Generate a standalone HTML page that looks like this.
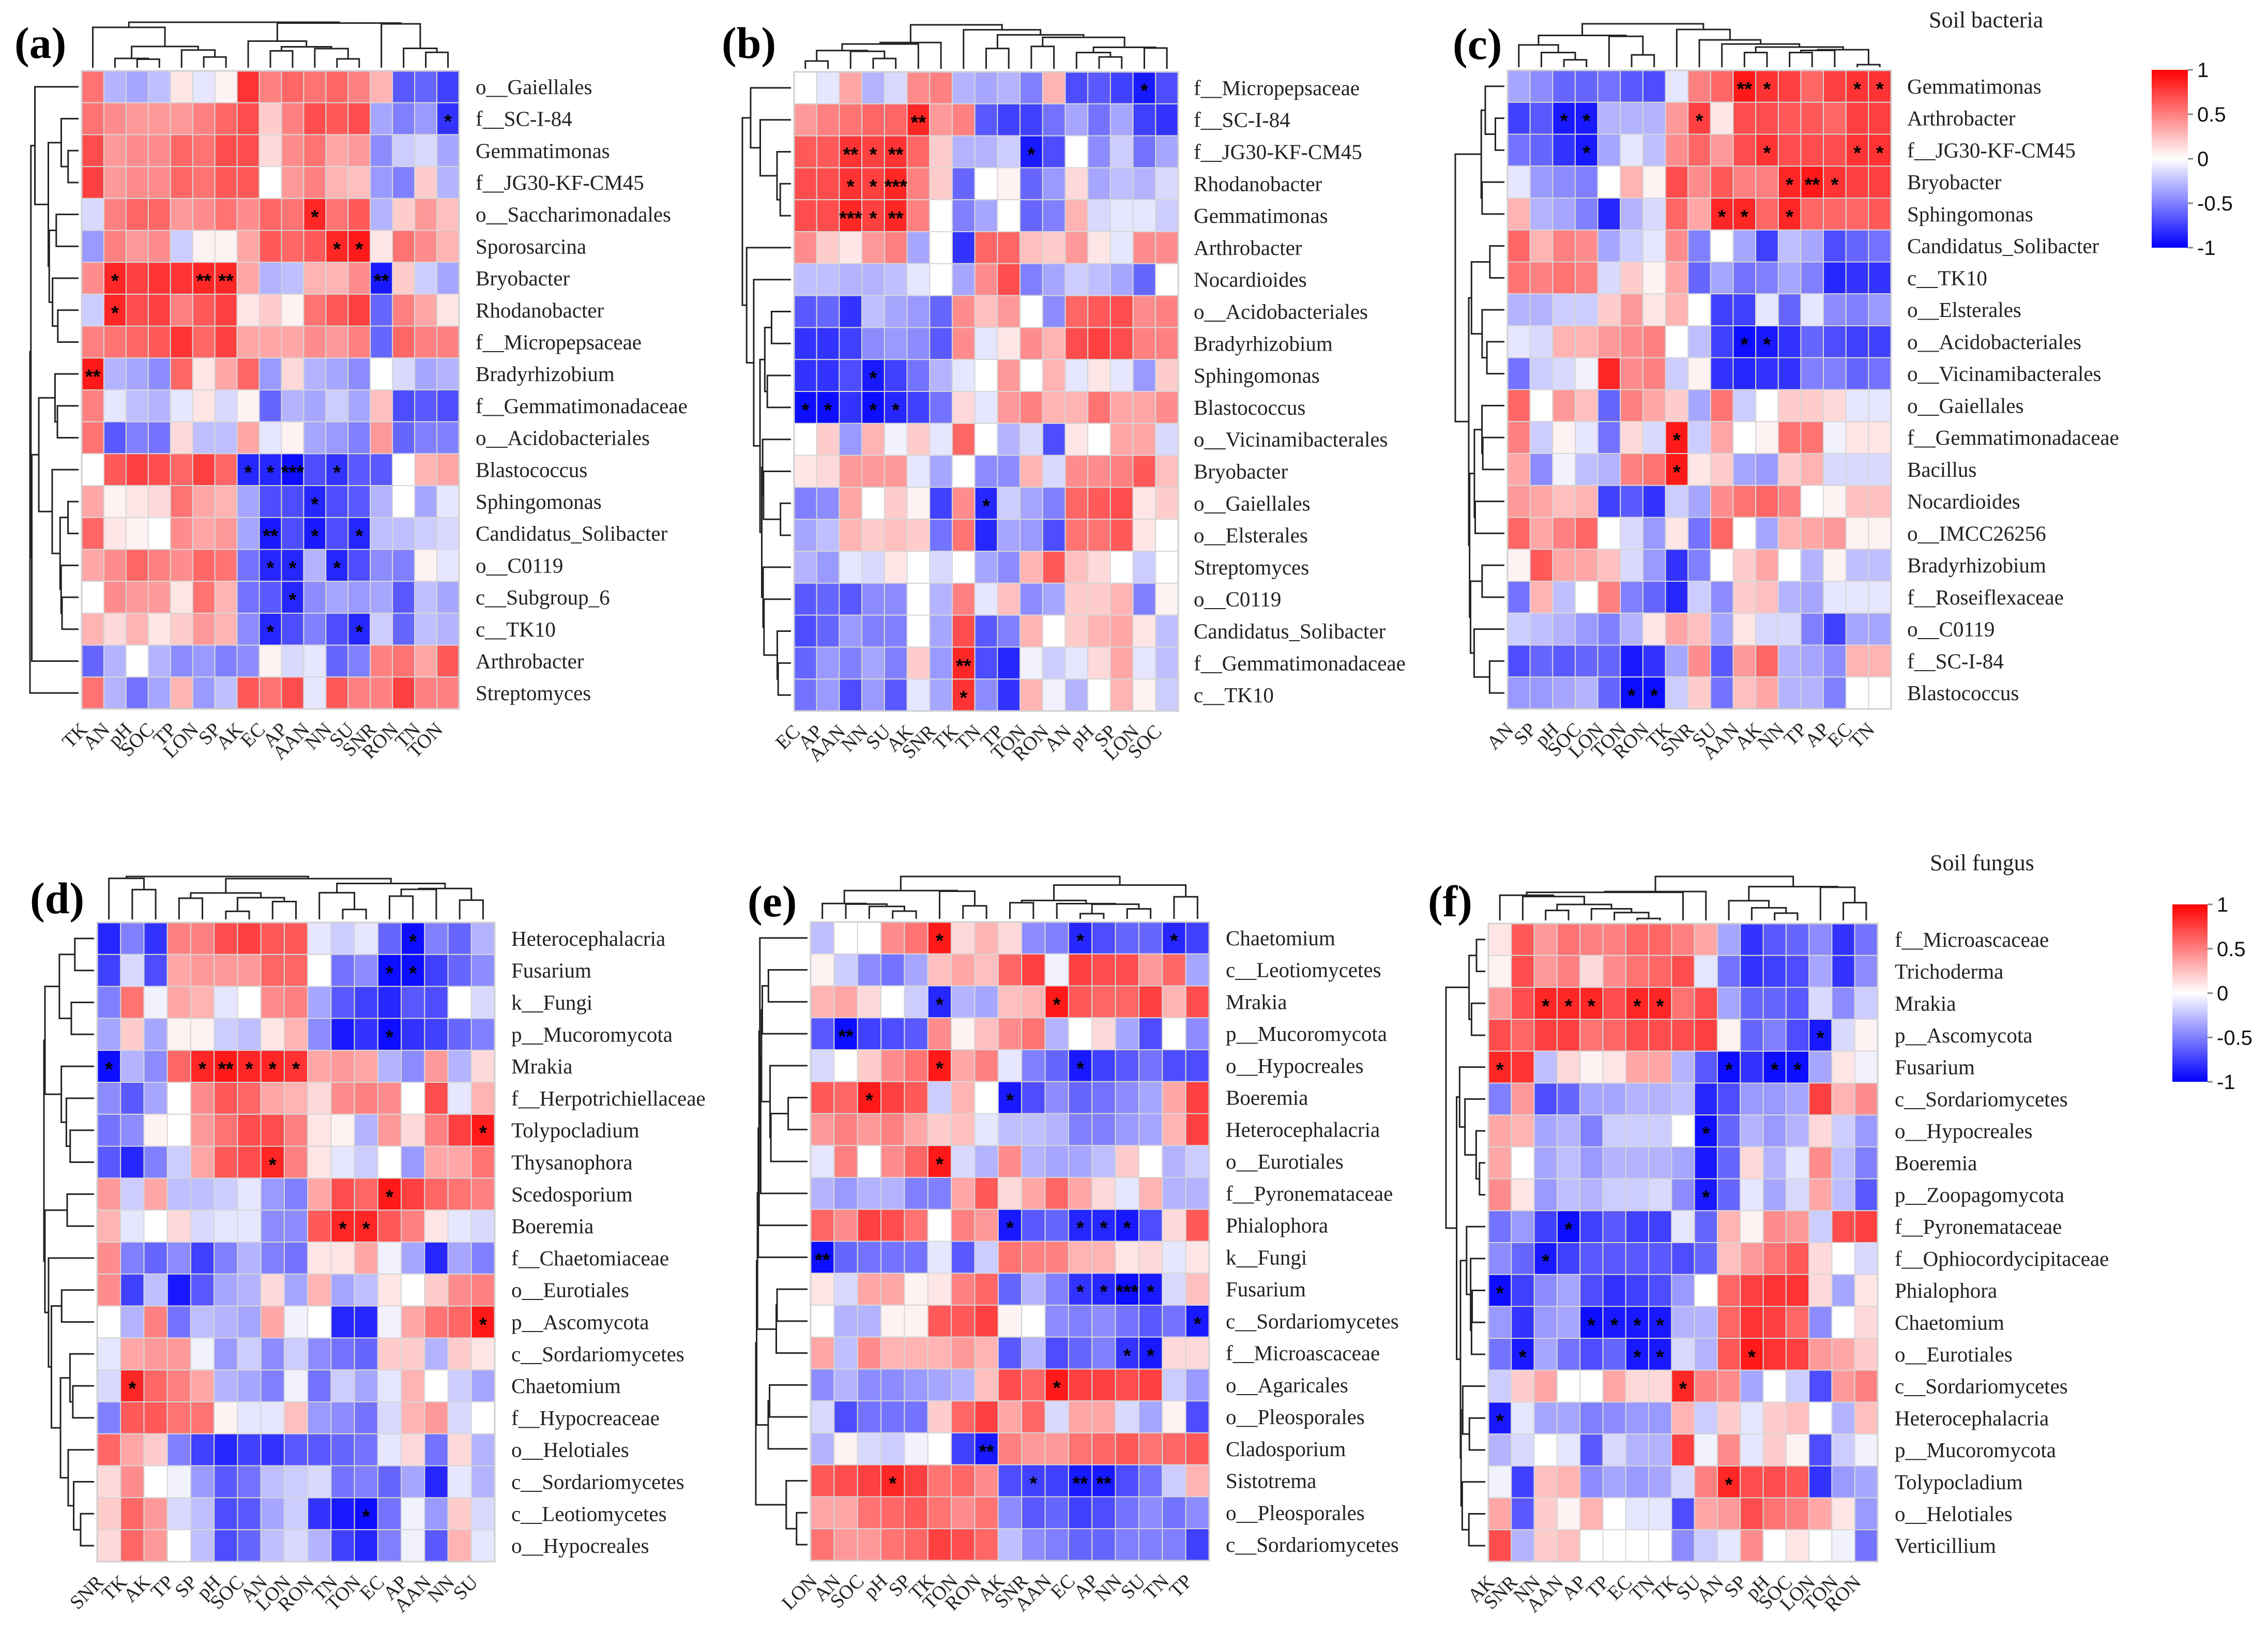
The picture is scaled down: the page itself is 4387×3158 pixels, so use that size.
<!DOCTYPE html>
<html><head><meta charset="utf-8"><style>
html,body{margin:0;padding:0;background:#fff;}
svg{display:block;}
</style></head><body>
<svg id="fig" xmlns="http://www.w3.org/2000/svg" width="4387" height="3158" viewBox="0 0 4387 3158">
<rect x="0" y="0" width="4387" height="3158" fill="#fff"/>
</svg>
<script>
// ---------- Panel (a) ----------
const aCols = ["TK","AN","pH","SOC","TP","LON","SP","AK","EC","AP","AAN","NN","SU","SNR","RON","TN","TON"];
const aRows = ["o__Gaiellales","f__SC-I-84","Gemmatimonas","f__JG30-KF-CM45","o__Saccharimonadales","Sporosarcina","Bryobacter","Rhodanobacter","f__Micropepsaceae","Bradyrhizobium","f__Gemmatimonadaceae","o__Acidobacteriales","Blastococcus","Sphingomonas","Candidatus_Solibacter","o__C0119","c__Subgroup_6","c__TK10","Arthrobacter","Streptomyces"];
const aVals = [
[.55,-.3,-.35,-.25,.1,-.1,.05,.8,.5,.6,.55,.6,.5,.3,-.65,-.6,-.75],
[.55,.45,.4,.4,.4,.5,.6,.7,.2,.5,.7,.65,.7,-.35,-.5,-.4,-.8],
[.7,.4,.45,.45,.6,.55,.7,.7,.15,.45,.55,.35,.4,-.45,-.2,-.15,-.35],
[.75,.4,.45,.45,.6,.55,.65,.65,0,.4,.5,.3,.25,-.4,-.5,.2,-.3],
[-.15,.5,.6,.6,.4,.45,.55,.45,.6,.55,.85,.55,.65,-.3,.2,.4,.25],
[-.4,.5,.4,.45,-.2,.05,.05,.35,.65,.6,.65,.85,.9,.1,.55,.45,.3],
[.45,.85,.75,.8,.8,.85,.85,.35,-.3,-.25,.3,.3,.45,-.9,.2,-.2,-.35],
[-.2,.85,.7,.75,.5,.65,.75,.1,.2,.05,.55,.65,.75,-.6,.5,.35,.1],
[.5,.55,.6,.65,.8,.6,.75,.35,.35,.35,.45,.4,.5,-.6,.6,.5,.5],
[.9,-.3,-.35,-.45,.6,.1,.35,.6,-.4,.15,-.3,-.35,-.45,0,-.15,-.35,-.3],
[.5,-.1,-.25,-.3,-.1,.1,-.15,.05,-.6,-.3,-.35,-.2,-.35,.25,-.7,-.65,-.7],
[.55,-.65,-.5,-.55,.15,-.25,-.25,.35,-.1,.05,-.35,-.4,-.5,.4,-.6,-.5,-.5],
[0,.65,.75,.7,.6,.75,.6,-.85,-.85,-.95,-.7,-.8,-.65,-.65,0,.3,.35],
[.35,.05,.1,.15,.55,.35,.3,-.35,-.7,-.7,-.85,-.7,-.65,-.3,0,-.35,-.1],
[.6,.1,.05,0,.45,.35,.4,-.35,-.9,-.7,-.9,-.7,-.85,-.25,-.25,-.2,-.15],
[.35,.45,.6,.5,.45,.6,.55,-.55,-.85,-.85,-.3,-.85,-.7,-.45,-.5,.05,-.1],
[0,.45,.4,.4,.1,.55,.3,-.55,-.65,-.85,-.45,-.35,-.4,-.35,-.65,-.25,-.35],
[.3,.15,.3,.1,.2,.4,.3,-.45,-.85,-.7,-.5,-.7,-.85,-.2,-.6,-.25,-.3],
[-.6,-.3,0,-.3,-.45,-.4,-.5,-.45,.05,-.15,-.1,-.6,-.5,.5,.55,.35,.65],
[.55,-.3,-.55,-.35,.3,-.4,-.25,.65,.55,.7,-.1,.65,.5,.5,.75,.5,.5]];
const aStars = [[1,16,"*"],[4,10,"*"],[5,11,"*"],[5,12,"*"],[6,1,"*"],[6,5,"**"],[6,6,"**"],[6,13,"**"],[7,1,"*"],[9,0,"**"],[12,7,"*"],[12,8,"*"],[12,9,"***"],[12,11,"*"],[13,10,"*"],[14,8,"**"],[14,10,"*"],[14,12,"*"],[15,8,"*"],[15,9,"*"],[15,11,"*"],[16,9,"*"],[17,8,"*"],[17,12,"*"]];

// ---------- Panel (b) ----------
const bCols = ["EC","AP","AAN","NN","SU","AK","SNR","TK","TN","TP","TON","RON","AN","pH","SP","LON","SOC"];
const bRows = ["f__Micropepsaceae","f__SC-I-84","f__JG30-KF-CM45","Rhodanobacter","Gemmatimonas","Arthrobacter","Nocardioides","o__Acidobacteriales","Bradyrhizobium","Sphingomonas","Blastococcus","o__Vicinamibacterales","Bryobacter","o__Gaiellales","o__Elsterales","Streptomyces","o__C0119","Candidatus_Solibacter","f__Gemmatimonadaceae","c__TK10"];
const bVals = [
[0,-.1,.35,-.3,-.15,.45,.5,-.3,-.35,-.3,-.5,.3,-.7,-.65,-.75,-.9,-.7],
[.4,.5,.55,.6,.6,.85,.4,.5,-.65,-.75,-.75,-.55,-.35,-.55,-.35,-.75,-.8],
[.65,.65,.8,.75,.8,.6,.2,-.3,-.3,-.2,-.9,-.7,0,-.45,-.2,-.55,-.35],
[.7,.7,.8,.75,.85,.5,.2,-.6,0,.05,-.6,-.4,.15,-.35,-.25,-.3,-.15],
[.7,.7,.85,.75,.85,.5,0,-.5,-.35,0,-.6,-.5,.3,-.15,-.1,-.1,-.2],
[.45,.2,.1,.4,.5,-.35,0,-.8,.6,.6,.25,.2,.4,.1,-.1,.45,.45],
[-.25,-.25,-.3,-.3,-.25,-.1,0,-.35,.45,.7,-.5,-.35,-.2,-.25,-.35,-.6,0],
[-.65,-.6,-.8,-.25,-.35,-.4,-.6,.45,.25,.4,0,-.45,.6,.65,.7,.45,.5],
[-.8,-.8,-.75,-.45,-.4,-.45,-.65,.45,-.1,.1,.45,.3,.7,.75,.7,.5,.5],
[-.8,-.8,-.7,-.9,-.75,-.55,-.3,-.1,0,.4,0,.3,-.1,.1,-.1,-.4,.2],
[-.95,-.95,-.8,-.95,-.85,-.75,-.55,.15,-.1,.4,.5,.3,.3,.55,.35,.35,.45],
[0,.2,-.4,.3,-.05,.2,-.1,.6,0,-.3,-.15,-.7,.1,0,.35,.35,-.15],
[.1,.15,.4,.4,.4,-.1,-.35,0,-.45,-.45,.3,-.15,.45,.45,.5,.65,.25],
[-.5,-.45,.35,0,.2,.05,-.75,.45,-.85,-.2,-.35,-.5,.6,.65,.7,.1,.2],
[-.35,-.25,.3,.2,.25,.2,-.55,.55,-.85,-.35,-.4,-.7,.55,.55,.65,.1,0],
[-.3,-.4,-.1,-.15,.1,0,-.15,0,-.35,-.45,.3,.65,.25,.15,0,-.2,0],
[-.65,-.6,-.65,-.45,-.45,0,-.3,.5,-.1,.25,-.45,-.35,.2,.2,.3,-.5,.05],
[-.7,-.6,-.4,-.5,-.5,0,-.35,.7,-.65,-.5,.3,0,.2,.3,.35,.1,-.25],
[-.6,-.4,-.5,-.35,-.5,.2,-.4,.85,-.7,-.85,-.05,-.2,-.1,.15,.35,-.1,-.25],
[-.55,-.4,-.7,-.4,-.65,-.1,-.35,.8,-.45,-.8,.3,-.05,-.3,0,.3,.05,-.2]];
const bStars = [[0,15,"*"],[1,5,"**"],[2,2,"**"],[2,3,"*"],[2,4,"**"],[2,10,"*"],[3,2,"*"],[3,3,"*"],[3,4,"***"],[4,2,"***"],[4,3,"*"],[4,4,"**"],[9,3,"*"],[10,0,"*"],[10,1,"*"],[10,3,"*"],[10,4,"*"],[13,8,"*"],[18,7,"**"],[19,7,"*"]];

// ---------- Panel (c) ----------
const cCols = ["AN","SP","pH","SOC","LON","TON","RON","TK","SNR","SU","AAN","AK","NN","TP","AP","EC","TN"];
const cRows = ["Gemmatimonas","Arthrobacter","f__JG30-KF-CM45","Bryobacter","Sphingomonas","Candidatus_Solibacter","c__TK10","o__Elsterales","o__Acidobacteriales","o__Vicinamibacterales","o__Gaiellales","f__Gemmatimonadaceae","Bacillus","Nocardioides","o__IMCC26256","Bradyrhizobium","f__Roseiflexaceae","o__C0119","f__SC-I-84","Blastococcus"];
const cVals = [
[-.35,-.45,-.6,-.6,-.55,-.65,-.7,-.1,.5,.6,.9,.8,.75,.6,.75,.8,.8],
[-.75,-.65,-.9,-.9,-.3,-.3,-.3,.4,.75,.1,.7,.7,.65,.65,.6,.75,.75],
[-.55,-.6,-.8,-.9,-.35,-.1,-.25,.45,.6,.4,.7,.8,.7,.7,.7,.8,.8],
[-.1,-.4,-.45,-.5,0,.3,.05,.7,.45,.65,.5,.5,.85,.9,.8,.75,.75],
[.3,-.3,-.35,-.5,-.85,-.3,-.15,.6,.35,.85,.85,.6,.85,.6,.6,.6,.65],
[.6,.3,.5,.45,-.35,-.2,-.1,.45,-.5,0,-.35,-.75,-.25,-.35,-.7,-.6,-.55],
[.55,.5,.55,.5,-.15,.2,.05,.35,-.6,-.35,-.55,-.5,-.35,-.5,-.85,-.8,-.8],
[-.3,-.3,-.2,-.2,.2,.4,.1,.3,0,-.75,-.75,-.1,-.6,-.1,-.45,-.5,-.4],
[-.1,-.15,.3,.3,.4,.45,.5,0,-.25,-.75,-.95,-.9,-.8,-.6,-.7,-.75,-.75],
[-.55,-.2,-.15,-.05,.85,.45,.5,-.2,.05,-.8,-.85,-.8,-.8,-.5,-.5,-.6,-.55],
[.6,0,.4,.25,-.6,.5,.35,.2,-.35,.55,-.2,0,.2,.2,.15,-.1,-.1],
[.5,-.2,.05,-.1,-.55,.15,-.15,.9,-.2,.35,0,.05,.55,.55,-.05,.1,.1],
[.35,-.45,-.05,-.25,-.3,.5,.55,.9,.1,.2,-.35,-.4,.2,.3,-.15,-.15,-.15],
[.4,.35,.25,.3,-.75,-.65,-.8,-.2,-.35,.45,.55,.6,.5,0,.05,.25,.25],
[.6,.35,.5,.6,0,-.15,-.4,.1,-.55,.6,0,-.35,.3,.35,.4,.05,.05],
[.05,.65,.35,.35,.25,-.15,-.4,-.8,-.5,0,.2,.35,0,-.3,.05,-.25,-.25],
[-.55,.3,-.25,0,.5,-.5,-.6,-.85,-.2,-.45,.2,.25,-.3,-.35,-.1,-.1,-.1],
[-.2,-.25,-.3,-.4,-.5,-.3,.1,.35,.25,-.35,.1,-.15,-.15,-.5,-.75,-.35,-.35],
[-.7,-.6,-.65,-.6,-.6,-.9,-.8,-.35,.45,-.65,.4,.6,-.3,-.35,-.45,.3,.3],
[-.4,-.4,-.35,-.3,-.6,-.95,-.95,-.2,.2,-.55,.25,.35,-.3,-.3,-.5,0,0]];
const cStars = [[0,10,"**"],[0,11,"*"],[0,15,"*"],[0,16,"*"],[1,2,"*"],[1,3,"*"],[1,8,"*"],[2,3,"*"],[2,11,"*"],[2,15,"*"],[2,16,"*"],[3,12,"*"],[3,13,"**"],[3,14,"*"],[4,9,"*"],[4,10,"*"],[4,12,"*"],[8,10,"*"],[8,11,"*"],[11,7,"*"],[12,7,"*"],[19,5,"*"],[19,6,"*"]];

// ---------- Panel (d) ----------
const dCols = ["SNR","TK","AK","TP","SP","pH","SOC","AN","LON","RON","TN","TON","EC","AP","AAN","NN","SU"];
const dRows = ["Heterocephalacria","Fusarium","k__Fungi","p__Mucoromycota","Mrakia","f__Herpotrichiellaceae","Tolypocladium","Thysanophora","Scedosporium","Boeremia","f__Chaetomiaceae","o__Eurotiales","p__Ascomycota","c__Sordariomycetes","Chaetomium","f__Hypocreaceae","o__Helotiales","c__Sordariomycetes","c__Leotiomycetes","o__Hypocreales"];
const dVals = [
[-.85,-.5,-.8,.5,.5,.7,.75,.65,.65,-.1,-.2,-.1,-.6,-.95,-.5,-.6,-.3],
[-.75,-.15,-.7,.35,.4,.4,.4,.6,.6,0,-.55,-.45,-.95,-.95,-.75,-.6,-.45],
[-.5,.55,-.05,.35,.3,-.1,0,.45,.5,-.35,-.65,-.75,-.85,-.65,-.7,0,-.15],
[-.35,.2,-.35,.05,.05,-.2,-.25,.1,.3,-.45,-.9,-.8,-.95,-.8,-.75,-.6,-.5],
[-.95,-.3,-.45,.6,.85,.9,.85,.85,.8,.35,.4,.35,-.3,-.45,.4,-.3,.15],
[-.45,-.65,-.35,0,.45,.65,.6,.35,.3,.15,.45,.5,.45,0,.7,-.1,.3],
[-.55,-.45,.05,0,.4,.55,.7,.7,.5,.1,.05,-.3,.4,.15,.5,.75,.9],
[-.65,-.85,-.5,-.2,.35,.65,.7,.85,.5,.1,-.1,-.2,0,-.4,.35,.35,.55],
[.4,-.2,.35,-.25,-.25,-.2,-.1,-.4,-.5,.35,.7,.6,.9,.75,.6,.55,.5],
[.3,-.1,0,.15,-.15,-.1,-.1,-.45,-.45,.65,.85,.85,.65,.5,.1,-.1,-.15],
[.45,-.5,-.6,-.45,-.75,-.5,-.3,-.5,-.55,.1,.1,.35,-.05,-.35,-.85,-.35,-.5],
[.45,-.75,-.25,-.9,-.65,-.35,-.3,.15,-.35,.3,-.35,-.25,.1,0,.2,.45,.5],
[0,-.3,.5,-.55,-.25,-.3,-.35,.35,-.05,0,-.85,-.85,-.05,.35,.55,.6,.9],
[-.1,.35,.4,.4,-.05,-.4,-.2,-.45,-.2,-.45,-.55,-.6,.2,.2,-.3,.2,.1],
[-.15,.85,.6,.5,.35,-.3,-.35,-.5,-.05,-.55,-.2,-.35,-.1,.3,0,-.2,-.35],
[-.5,.65,.65,.55,.55,.05,-.1,-.1,.25,-.4,-.45,-.55,-.15,.3,.4,-.15,0],
[.6,.35,.2,-.5,-.75,-.85,-.75,-.8,-.65,-.65,-.6,-.55,-.1,.15,-.55,.15,-.3],
[.15,.45,0,-.05,-.4,-.65,-.55,-.25,-.2,-.15,-.55,-.5,-.6,-.35,-.85,-.1,-.3],
[.2,.6,.4,-.15,-.25,-.7,-.65,-.35,-.2,-.8,-.9,-.95,-.55,-.05,-.4,.2,-.15],
[.15,.6,.4,0,-.25,-.7,-.6,-.25,-.15,-.3,-.75,-.85,-.5,-.05,-.65,.3,-.1]];
const dStars = [[0,13,"*"],[1,12,"*"],[1,13,"*"],[3,12,"*"],[4,0,"*"],[4,4,"*"],[4,5,"**"],[4,6,"*"],[4,7,"*"],[4,8,"*"],[6,16,"*"],[7,7,"*"],[8,12,"*"],[9,10,"*"],[9,11,"*"],[12,16,"*"],[14,1,"*"],[18,11,"*"]];

// ---------- Panel (e) ----------
const eCols = ["LON","AN","SOC","pH","SP","TK","TON","RON","AK","SNR","AAN","EC","AP","NN","SU","TN","TP"];
const eRows = ["Chaetomium","c__Leotiomycetes","Mrakia","p__Mucoromycota","o__Hypocreales","Boeremia","Heterocephalacria","o__Eurotiales","f__Pyronemataceae","Phialophora","k__Fungi","Fusarium","c__Sordariomycetes","f__Microascaceae","o__Agaricales","o__Pleosporales","Cladosporium","Sistotrema","o__Pleosporales","c__Sordariomycetes"];
const eVals = [
[-.25,0,0,.45,.55,.9,.15,.3,.15,-.45,-.5,-.85,-.7,-.6,-.6,-.85,-.75],
[.05,-.2,-.45,-.55,-.35,.25,.35,.25,.6,.75,-.05,.75,.7,.7,.4,.6,-.35],
[.3,.35,.15,0,-.2,-.85,-.3,-.35,.25,.3,.9,.65,.6,.6,.75,.3,.7],
[-.65,-.95,-.75,-.7,-.65,.45,.05,.25,.45,.55,-.3,0,.15,-.35,-.7,0,-.45],
[-.15,0,.2,.45,.55,.9,.35,.5,-.1,-.5,-.6,-.9,-.75,-.65,-.55,-.7,-.7],
[.65,.6,.9,.75,.65,-.2,.3,0,-.9,-.7,-.45,-.6,-.55,-.45,-.35,.35,.75],
[.4,.5,.4,.5,.35,.2,.25,-.1,-.25,-.25,-.3,-.5,-.5,-.4,-.35,.3,.75],
[-.1,.5,0,.45,.6,.9,-.15,-.3,.45,-.3,-.35,-.35,-.25,.2,0,-.3,-.2],
[-.3,-.4,-.3,-.3,-.5,-.5,.35,.65,.15,.35,.6,.35,.15,-.1,.3,-.3,-.3],
[.6,.45,.75,.7,.55,0,.5,.4,-.9,-.65,-.6,-.85,-.85,-.9,-.7,.15,.65],
[-.95,-.6,-.55,-.55,-.55,-.1,-.65,-.2,.55,.5,.5,.3,.3,.1,.15,-.1,.1],
[.1,-.15,.35,.35,.05,.1,.5,.6,-.6,-.3,-.5,-.8,-.85,-.95,-.9,-.15,.25],
[0,-.3,-.3,.05,.05,.65,.65,.75,.05,0,-.45,-.5,-.45,-.55,-.65,-.55,-.9],
[.35,-.25,.45,.3,.3,.3,.4,.3,-.65,-.3,-.7,-.6,-.5,-.8,-.9,.15,.15],
[-.45,-.3,-.45,-.45,-.4,-.35,-.3,.25,.7,.6,.9,.75,.75,.7,.75,-.2,-.4],
[-.15,-.7,-.55,-.55,-.55,.2,.6,.75,.35,.6,-.15,.35,.35,-.15,-.35,.05,-.7],
[-.3,.05,-.15,-.2,-.05,0,-.75,-.9,.5,.4,.4,.55,.6,.65,.55,.6,.65],
[.65,.7,.75,.85,.75,.55,.6,.45,-.7,-.75,-.75,-.9,-.9,-.7,-.55,-.2,.3],
[.35,.35,.55,.6,.65,.55,.45,.55,-.45,-.65,-.6,-.75,-.7,-.55,-.45,-.55,-.45],
[.55,.4,.4,.55,.6,.75,.7,.6,-.25,-.45,-.5,-.6,-.6,-.5,-.5,-.5,-.75]];
const eStars = [[0,5,"*"],[0,11,"*"],[0,15,"*"],[2,5,"*"],[2,10,"*"],[3,1,"**"],[4,5,"*"],[4,11,"*"],[5,2,"*"],[5,8,"*"],[7,5,"*"],[9,8,"*"],[9,11,"*"],[9,12,"*"],[9,13,"*"],[10,0,"**"],[11,11,"*"],[11,12,"*"],[11,13,"***"],[11,14,"*"],[12,16,"*"],[13,13,"*"],[13,14,"*"],[14,10,"*"],[16,7,"**"],[17,3,"*"],[17,9,"*"],[17,11,"**"],[17,12,"**"]];

// ---------- Panel (f) ----------
const fCols = ["AK","SNR","NN","AAN","AP","TP","EC","TN","TK","SU","AN","SP","pH","SOC","LON","TON","RON"];
const fRows = ["f__Microascaceae","Trichoderma","Mrakia","p__Ascomycota","Fusarium","c__Sordariomycetes","o__Hypocreales","Boeremia","p__Zoopagomycota","f__Pyronemataceae","f__Ophiocordycipitaceae","Phialophora","Chaetomium","o__Eurotiales","c__Sordariomycetes","Heterocephalacria","p__Mucoromycota","Tolypocladium","o__Helotiales","Verticillium"];
const fVals = [
[.1,.65,.4,.55,.5,.5,.6,.6,.5,.35,-.35,-.8,-.65,-.6,-.45,-.8,-.55],
[.05,.7,.4,.5,.15,.45,.55,.6,.7,-.1,-.55,-.8,-.75,-.7,-.35,-.8,-.45],
[.4,.7,.85,.85,.85,.7,.85,.85,.55,.7,-.35,-.6,-.6,-.65,-.15,-.45,-.2],
[.7,.6,.75,.75,.55,.6,.7,.7,.7,.75,.05,-.6,-.5,-.7,-.9,-.15,.05],
[.85,.8,-.25,.15,.05,.1,.35,.35,-.3,-.65,-.95,-.8,-.95,-.95,-.35,.1,-.05],
[-.5,.4,-.7,-.6,-.35,-.35,-.3,-.3,-.25,-.85,-.7,-.4,-.4,-.35,.75,.3,.45],
[.35,.3,-.35,-.3,-.5,-.2,-.2,-.2,0,-.95,-.6,-.3,-.4,-.3,.15,-.2,-.4],
[.35,0,-.35,-.25,-.4,-.3,-.3,-.3,-.35,-.9,-.6,.15,-.3,-.1,.45,-.25,-.5],
[.45,.1,-.4,-.25,-.3,-.2,-.2,-.15,-.45,-.9,-.6,-.1,-.35,-.15,.35,-.25,-.65],
[-.55,-.4,-.75,-.95,-.75,-.65,-.75,-.75,-.1,-.6,.3,.05,.45,.4,-.2,.7,.75],
[-.45,-.6,-.9,-.75,-.65,-.65,-.65,-.65,-.7,-.6,.25,.4,.55,.65,.15,0,-.15],
[-.95,-.75,-.45,-.35,-.7,-.8,-.75,-.7,-.4,0,.6,.75,.8,.8,.15,-.35,.1],
[-.4,-.8,-.4,-.35,-.95,-.9,-.9,-.9,-.3,-.3,.6,.8,.75,.6,-.45,0,.15],
[-.55,-.9,-.35,-.55,-.7,-.6,-.9,-.9,-.15,-.3,.65,.9,.8,.75,.4,.35,.2],
[-.2,.2,.35,0,0,.35,.15,.15,.85,.5,.45,-.35,0,-.2,-.7,.4,.5],
[-.9,-.1,-.35,-.35,-.5,-.45,-.4,-.4,.3,-.2,.2,-.1,.2,.25,0,-.3,.25],
[-.3,-.15,0,-.1,-.65,-.15,-.3,-.3,.75,-.05,.45,-.1,.2,.05,-.7,-.2,-.05],
[-.05,-.75,.25,.3,-.45,-.35,-.4,-.35,-.15,.5,.85,.7,.7,.65,-.8,-.4,-.35],
[.35,-.65,.2,.05,.3,0,-.1,-.1,-.7,.35,.4,.7,.55,.5,.35,.1,-.4],
[.7,-.3,.2,.25,0,0,0,0,-.45,-.2,-.1,.45,0,.1,0,-.05,-.55]];
const fStars = [[2,2,"*"],[2,3,"*"],[2,4,"*"],[2,6,"*"],[2,7,"*"],[3,14,"*"],[4,0,"*"],[4,10,"*"],[4,12,"*"],[4,13,"*"],[6,9,"*"],[8,9,"*"],[9,3,"*"],[10,2,"*"],[11,0,"*"],[12,4,"*"],[12,5,"*"],[12,6,"*"],[12,7,"*"],[13,1,"*"],[13,6,"*"],[13,7,"*"],[13,11,"*"],[14,8,"*"],[15,0,"*"],[17,10,"*"]];

// Colorbar ticks
const cbTicks = [1, 0.5, 0, -0.5, -1];
const cbTickLabels = ["1", "0.5", "0", "-0.5", "-1"];

const SERIF = "'Liberation Serif', 'Times New Roman', serif";
const SANS = "'Liberation Sans', Arial, sans-serif";
const NS = "http://www.w3.org/2000/svg";
const svg = document.getElementById("fig");
function mk(tag, attrs, parent) {
  const el = document.createElementNS(NS, tag);
  for (const k in attrs) el.setAttribute(k, attrs[k]);
  (parent || svg).appendChild(el);
  return el;
}
function color(v) {
  v = Math.max(-1, Math.min(1, v));
  let r, g, b;
  if (v >= 0) { r = 255; g = b = Math.round(255 * (1 - v)); }
  else { b = 255; r = g = Math.round(255 * (1 + v)); }
  return "rgb(" + r + "," + g + "," + b + ")";
}
function dist(a, b) { let s = 0; for (let i = 0; i < a.length; i++) s += (a[i] - b[i]) * (a[i] - b[i]); return Math.sqrt(s); }
function cluster(vecs) {
  let cl = vecs.map((v, i) => ({ v: v.slice(), n: 1, pos: i, h: 0 }));
  const merges = [];
  while (cl.length > 1) {
    let best = 0, bd = Infinity;
    for (let i = 0; i < cl.length - 1; i++) { const d = dist(cl[i].v, cl[i + 1].v); if (d < bd) { bd = d; best = i; } }
    const A = cl[best], B = cl[best + 1];
    const h = Math.max(bd, A.h, B.h) + 0.05;
    const n = A.n + B.n;
    const v = A.v.map((x, k) => (x * A.n + B.v[k] * B.n) / n);
    const node = { v: v, n: n, pos: (A.pos + B.pos) / 2, h: h };
    merges.push([A, B, node]);
    cl.splice(best, 2, node);
  }
  return merges;
}

function drawPanel(p) {
  const g = mk("g", {});
  
  
  const nr = p.rows.length, nc = p.cols.length;
  const cw = (p.x1 - p.x0) / nc, rh = (p.y1 - p.y0) / nr;
  const xs = c => p.x0 + c * cw;
  const ys = r => p.y0 + r * rh;
  const cells = mk("g", {}, g);
  
  
  for (let r = 0; r < nr; r++) for (let c = 0; c < nc; c++) {
    const rc = mk("rect", { x: xs(c), y: ys(r), width: cw, height: rh, fill: color(p.vals[r][c]), stroke: "#d6d6d6", "stroke-width": 2 }, cells);
    
    
  }
  const bd = mk("rect", { x: p.x0, y: p.y0, width: p.x1 - p.x0, height: p.y1 - p.y0, fill: "none", stroke: "#d0d0d0", "stroke-width": 3 }, g);
  
  
  p.stars.forEach(s => {
    const t = mk("text", { x: xs(s[1]) + cw / 2, y: ys(s[0]) + rh / 2 + 18, "text-anchor": "middle", "font-family": SANS, "font-size": 38, "font-weight": "bold", fill: "#000" }, g);
    t.textContent = s[2];
    
    
  });
  p.rows.forEach((lab, r) => {
    const t = mk("text", { x: p.lx, y: ys(r) + rh / 2 + 14, "font-family": SERIF, "font-size": 41, fill: "#222" }, g);
    t.textContent = lab;
    
    
  });
  p.cols.forEach((lab, c) => {
    const cx = xs(c) + cw / 2 - 8, cy = p.y1 + 42;
    const t = mk("text", { x: cx, y: cy, "text-anchor": "end", transform: "rotate(-45 " + cx + " " + cy + ")", "font-family": SERIF, "font-size": 38, fill: "#222" }, g);
    t.textContent = lab;
    
    
  });
  const colVecs = p.cols.map((_, c) => p.vals.map(row => row[c]));
  const cm = cluster(colVecs);
  const cmax = cm[cm.length - 1][2].h;
  const cBase = p.y0 - 6, cDepth = p.y0 - 6 - p.cTop;
  const cdy = h => cBase - h / cmax * cDepth;
  const cdx = pos => xs(pos) + cw / 2;
  const cd = mk("g", { stroke: "#222", "stroke-width": 3, fill: "none" }, g);
  
  
  cm.forEach(m => {
    const A = m[0], B = m[1], N = m[2];
    mk("path", { d: "M" + cdx(A.pos) + " " + cdy(A.h) + " V" + cdy(N.h) + " H" + cdx(B.pos) + " V" + cdy(B.h) }, cd);
  });
  const rm = cluster(p.vals);
  const rmax = rm[rm.length - 1][2].h;
  const rBase = p.x0 - 6, rDepth = p.x0 - 6 - p.rLeft;
  const rdx = h => rBase - h / rmax * rDepth;
  const rdy = pos => ys(pos) + rh / 2;
  const rd = mk("g", { stroke: "#222", "stroke-width": 3, fill: "none" }, g);
  
  
  rm.forEach(m => {
    const A = m[0], B = m[1], N = m[2];
    mk("path", { d: "M" + rdx(A.h) + " " + rdy(A.pos) + " H" + rdx(N.h) + " V" + rdy(B.pos) + " H" + rdx(B.h) }, rd);
  });
  const pl = mk("text", { x: p.tx, y: p.ty, "font-family": SERIF, "font-weight": "bold", "font-size": 86, fill: "#000" }, g);
  pl.textContent = "(" + p.id + ")";
  
  
}

function drawColorbar(x0, x1, y0, y1, id) {
  const g = mk("g", {});
  
  
  const defs = mk("defs", {}, g);
  const lg = mk("linearGradient", { id: "grad" + id, x1: 0, y1: 0, x2: 0, y2: 1 }, defs);
  mk("stop", { offset: "0", "stop-color": "#ff0000" }, lg);
  mk("stop", { offset: "0.5", "stop-color": "#ffffff" }, lg);
  mk("stop", { offset: "1", "stop-color": "#0000ff" }, lg);
  const r = mk("rect", { x: x0, y: y0, width: x1 - x0, height: y1 - y0, fill: "url(#grad" + id + ")" }, g);
  
  
  const sc = v => y0 + (1 - v) / 2 * (y1 - y0);
  cbTicks.forEach((v, i) => {
    mk("line", { x1: x1, x2: x1 + 10, y1: sc(v), y2: sc(v), stroke: "#888", "stroke-width": 3 }, g);
    const t = mk("text", { x: x1 + 18, y: sc(v) + 14, "font-family": SANS, "font-size": 40, fill: "#111" }, g);
    t.textContent = cbTickLabels[i];
    
    
  });
}

drawPanel({ id: "a", rows: aRows, cols: aCols, vals: aVals, stars: aStars, x0: 158, x1: 888, y0: 137, y1: 1371, lx: 920, cTop: 43, rLeft: 58, tx: 28, ty: 112 });
drawPanel({ id: "b", rows: bRows, cols: bCols, vals: bVals, stars: bStars, x0: 1536, x1: 2279, y0: 139, y1: 1375, lx: 2309, cTop: 48, rLeft: 1436, tx: 1396, ty: 112 });
drawPanel({ id: "c", rows: cRows, cols: cCols, vals: cVals, stars: cStars, x0: 2916, x1: 3658, y0: 136, y1: 1371, lx: 3689, cTop: 46, rLeft: 2815, tx: 2810, ty: 114 });
drawPanel({ id: "d", rows: dRows, cols: dCols, vals: dVals, stars: dStars, x0: 188, x1: 957, y0: 1784, y1: 3020, lx: 989, cTop: 1695, rLeft: 85, tx: 58, ty: 1766 });
drawPanel({ id: "e", rows: eRows, cols: eCols, vals: eVals, stars: eStars, x0: 1568, x1: 2339, y0: 1783, y1: 3018, lx: 2371, cTop: 1695, rLeft: 1462, tx: 1446, ty: 1772 });
drawPanel({ id: "f", rows: fRows, cols: fCols, vals: fVals, stars: fStars, x0: 2879, x1: 3632, y0: 1786, y1: 3020, lx: 3665, cTop: 1695, rLeft: 2797, tx: 2762, ty: 1772 });

drawColorbar(4162, 4232, 135, 479, "bacteria");
drawColorbar(4202, 4270, 1749, 2092, "fungus");

const t1 = mk("text", { x: 3731, y: 53, "font-family": SERIF, "font-size": 44, fill: "#222" });
t1.textContent = "Soil bacteria";


const t2 = mk("text", { x: 3733, y: 1683, "font-family": SERIF, "font-size": 44, fill: "#222" });
t2.textContent = "Soil fungus";


</script>
</body></html>
